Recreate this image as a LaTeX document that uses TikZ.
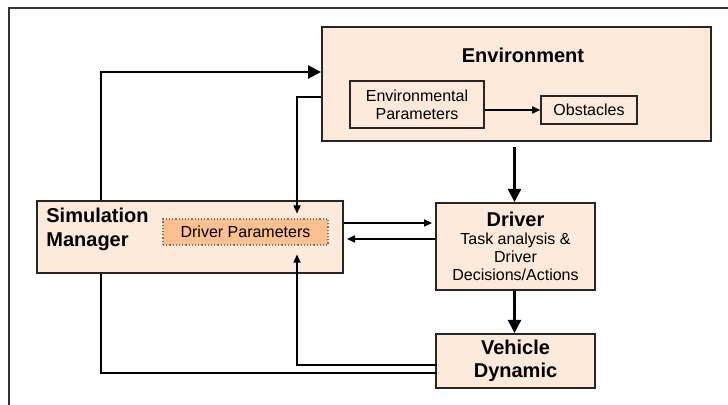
\documentclass[tikz,border=0pt]{standalone}
\usepackage{fontspec}
\setmainfont{Liberation Sans}
\usetikzlibrary{arrows.meta,calc}
\definecolor{peach}{RGB}{253,234,218}
\definecolor{dporange}{RGB}{250,192,144}
\begin{document}
\begin{tikzpicture}[x=0.5pt,y=-0.5pt,
  box/.style={draw=black!85, line width=1pt, fill=peach, inner sep=0pt, align=center},
  innerbox/.style={draw=black!85, line width=0.8pt, fill=peach, inner sep=0pt, align=center, font=\fontsize{8}{9}\selectfont},
  dpbox/.style={draw=black!55, densely dotted, line width=0.6pt, fill=dporange, inner sep=0pt, font=\fontsize{8}{9}\selectfont},
  title/.style={font=\fontsize{10}{12}\selectfont\bfseries, inner sep=0pt},
  bigarrow/.style={line width=1.2pt, -{Triangle[length=6.5pt,width=6.5pt]}},
  bigline/.style={line width=1.2pt},
  smallarrow/.style={line width=0.55pt, -{Triangle[length=4pt,width=3.6pt]}},
]
\useasboundingbox (0,0) rectangle (728,405);
\fill[white] (0,0) rectangle (728,405);
\draw[line width=0.9pt, black!80] (9,405) -- (9,8) -- (728,8);

% boxes
\node[box, minimum width=194.5pt, minimum height=57pt] (env) at (516.5,84) {};
\node[title, anchor=base] (envtitle) at (523,63) {Environment};
\node[innerbox, minimum width=67pt, minimum height=23.5pt] (envpar) at (417,104.5) {Environmental\\Parameters};
\node[innerbox, minimum width=48pt, minimum height=14pt] (obs) at (589,110) {Obstacles};

\node[box, minimum width=153pt, minimum height=36pt] (sim) at (190,237) {};
\node[title, anchor=base west, align=left] (simtitle) at (46,247) {Simulation\\Manager};
\node[dpbox, minimum width=82.5pt, minimum height=13pt] (dp) at (245.5,232) {Driver Parameters};

\node[box, minimum width=79.5pt, minimum height=43.5pt, font=\fontsize{8}{9}\selectfont] (drv) at (515.5,246.5)
  {{\fontsize{10}{12}\selectfont\bfseries Driver}\\
   Task analysis \&\\
   Driver\\
   Decisions/Actions};
\node[box, minimum width=79.5pt, minimum height=27pt, font=\fontsize{10}{11.5}\selectfont\bfseries] (veh) at (515.5,361) {Vehicle\\Dynamic};

% helper coordinates
\coordinate (c1) at (101,72);
\coordinate (c2) at (297,97);
\coordinate (c3) at (297,365);
\coordinate (c4) at (101,373);
\coordinate (c5) at (0,223);
\coordinate (c6) at (0,239);
\coordinate (c7) at (514.5,0);

% connectors
\draw[smallarrow] (envpar.east |- obs) -- (obs.west);
\draw[bigarrow] (sim.north -| c1) |- (env.west |- c1);
\draw[smallarrow, shorten >=2.5pt] (env.west |- c2) -| (dp.north -| c2);
\draw[smallarrow, shorten >=1.5pt] (sim.east |- c5) -- (drv.west |- c5);
\draw[smallarrow, shorten >=1.5pt] (drv.west |- c6) -- (sim.east |- c6);
\draw[bigarrow, shorten <=2.5pt] (env.south -| c7) -- (drv.north -| c7);
\draw[bigarrow] (drv.south -| c7) -- (veh.north -| c7);
\draw[smallarrow, line width=0.6pt, shorten >=4.5pt] ($(veh.west |- c3)+(2,0)$) -| (dp.south -| c3);
\draw[bigline] (sim.south -| c4) |- ($(veh.west |- c4)+(2,0)$);
\end{tikzpicture}
\end{document}
